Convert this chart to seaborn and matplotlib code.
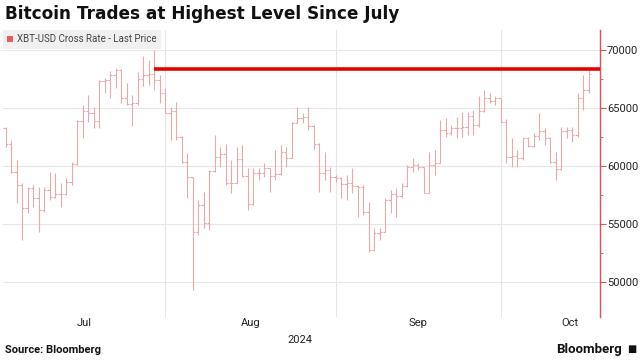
import pandas as pd
import matplotlib
matplotlib.use("Agg")
import matplotlib.pyplot as plt
from matplotlib.patches import Patch
import seaborn as sns

# Daily XBT-USD bars (open, high, low, close)
opens = [63250, 61870, 59510, 58360, 56350, 58070, 57210, 56200, 57930, 57360,
         57580, 57580, 58590, 60140, 63880, 64740, 64540, 63880, 67270, 67410,
         67840, 68280, 65830, 65310, 65400, 67470, 67840, 67930, 67360, 66260,
         64540, 64770, 62530, 60370, 59080, 54340, 56640, 55110, 59600, 60750,
         61030, 58560, 58500, 60570, 59140, 56690, 59370, 59420, 59800, 59140,
         59310, 61230, 60660, 63730, 64110, 64250, 63450, 61870, 59370, 59650,
         59020, 58930, 58450, 58560, 58270, 58220, 56060, 52760, 54190, 54340,
         57070, 57580, 57410, 58270, 59940, 60080, 59880, 57640, 60080, 60230,
         63100, 62870, 63250, 63250, 63330, 64310, 63530, 64740, 65830, 65630,
         65830, 63820, 60800, 60860, 60660, 62380, 61720, 62590, 63020, 62380,
         60370, 59740, 63050, 63100, 62670, 65890, 66550]
highs = [63390, 62240, 60520, 58500, 58220, 58360, 58220, 58220, 59450, 59370,
         58500, 58930, 60370, 63960, 65260, 66120, 65110, 67410, 67560, 68130,
         68420, 68330, 67130, 66120, 68050, 69430, 69140, 70000, 67840, 66700,
         65110, 65540, 62590, 61090, 59080, 57070, 57790, 59650, 62670, 61670,
         61900, 60520, 61670, 61810, 59800, 59800, 59800, 60230, 59800, 61380,
         61810, 61670, 63820, 65110, 64540, 65110, 63530, 61950, 61230, 59940,
         59220, 59080, 59220, 59800, 58360, 58360, 56920, 54620, 54620, 57210,
         57930, 58070, 58500, 60080, 60660, 60230, 59940, 61230, 61380, 63960,
         64110, 63530, 64250, 64680, 64680, 64830, 65980, 66550, 66260, 65980,
         65830, 64020, 62380, 61380, 62380, 62470, 62820, 64540, 63250, 62530,
         61230, 63390, 63390, 63390, 66260, 67840, 68220]
lows = [61670, 59400, 56780, 53620, 55920, 56490, 54340, 56060, 57070, 57210,
        56490, 57500, 58360, 60080, 62380, 63820, 63250, 63250, 66260, 65830,
        66700, 65400, 65260, 63450, 65260, 66840, 66980, 66550, 65400, 64540,
        62240, 62240, 60230, 57210, 49310, 54050, 54620, 54480, 59510, 59940,
        58360, 57640, 58500, 59080, 56200, 56640, 58790, 59080, 57790, 58790,
        59220, 59940, 60660, 63680, 63680, 63100, 61380, 57790, 58790, 57790,
        58650, 57210, 57070, 57640, 55630, 55780, 52610, 52700, 53620, 54340,
        55920, 55630, 57210, 58220, 59510, 59650, 57640, 57640, 59220, 60230,
        62530, 62670, 62380, 62530, 62670, 62670, 63390, 64680, 65400, 65260,
        63680, 60230, 59940, 59880, 60520, 61670, 61670, 62240, 61810, 60230,
        58790, 59650, 62380, 62100, 62530, 64830, 66260]
closes = [61870, 59510, 58360, 56350, 58070, 57210, 56200, 57930, 57360, 57580,
          57580, 58590, 60140, 63880, 64740, 64540, 63880, 67270, 67410, 67840,
          68280, 65830, 65310, 65400, 67470, 67840, 67930, 67360, 66260, 64540,
          64770, 62530, 60370, 59080, 54340, 56640, 55110, 59600, 60750, 61030,
          58560, 58500, 60570, 59140, 56690, 59370, 59420, 59800, 59140, 59310,
          61230, 60660, 63730, 64110, 64250, 63450, 61870, 59370, 59650, 59020,
          58930, 58450, 58560, 58270, 58220, 56060, 52760, 54190, 54340, 57070,
          57580, 57410, 58270, 59940, 60080, 59880, 57640, 60080, 60230, 63100,
          62870, 63250, 63250, 63330, 64310, 63530, 64740, 65830, 65630, 65830,
          63820, 60800, 60860, 60660, 62380, 61720, 62590, 63020, 62380, 60370,
          59740, 63050, 63100, 62670, 65890, 66550, 67930]
dates = pd.date_range("2024-07-03", periods=len(closes), freq="D")

# level of the latest price, drawn back to the late-July peak
last_price = 68360
level_start = pd.Timestamp("2024-07-30")

y_ticks = [50000, 55000, 60000, 65000, 70000]
month_starts = pd.to_datetime(["2024-08-01", "2024-09-01", "2024-10-01"])
month_labels = ["Jul", "Aug", "Sep", "Oct"]
month_label_pos = pd.to_datetime(["2024-07-17 08:00", "2024-08-16 12:00",
                                  "2024-09-16 00:00", "2024-10-13 16:00"])

sns.set_theme(style="white")
plt.rcParams["font.family"] = ["Roboto", "DejaVu Sans"]

fig = plt.figure(figsize=(6.42, 3.61), dpi=100)
ax = fig.add_axes([3 / 642, 1 - 317 / 361, 597 / 642, 287 / 361])

bar_color = "#e9a9a9"
half = pd.Timedelta(hours=10)
ax.vlines(dates, lows, highs, color=bar_color, lw=0.8)
ax.hlines(opens, dates - half, dates, color=bar_color, lw=0.8)
ax.hlines(closes, dates, dates + half, color=bar_color, lw=0.8)

x_start = pd.Timestamp("2024-07-02 13:00")
x_end = pd.Timestamp("2024-10-19 02:00")
ax.hlines(last_price, level_start, x_end, color="#e10600", lw=2.6, zorder=5)

ax.set_xlim(x_start, x_end)
ax.set_ylim(47000, 71700)

# y axis on the right with red spine
ax.yaxis.tick_right()
ax.set_yticks(y_ticks)
ax.set_yticks([52500, 57500, 62500, 67500], minor=True)
ax.tick_params(axis="y", which="major", direction="out", length=4, width=0.8,
               color="#e05050", labelsize=8, labelcolor="#222222", pad=1, right=True)
ax.tick_params(axis="y", which="minor", direction="out", length=2, width=0.6,
               color="#e05050", right=True)
for s in ["top", "left", "bottom"]:
    ax.spines[s].set_visible(False)
ax.spines["right"].set_color("#e05050")
ax.spines["right"].set_linewidth(1.0)

ax.set_xticks(month_starts)
ax.set_xticklabels([])
ax.set_xticks(month_label_pos, minor=True)
ax.set_xticklabels(month_labels, minor=True)
ax.tick_params(axis="x", which="both", length=0, labelsize=8, labelcolor="#222222", pad=1)

ax.grid(True, axis="y", which="major", color="#e6e6e6", lw=0.8)
ax.grid(True, axis="x", which="major", color="#e6e6e6", lw=0.8)
ax.set_axisbelow(True)

fig.text(300 / 642, 1 - 340 / 361, "2024", ha="center", va="center",
         fontsize=8, color="#222222")

leg = ax.legend(handles=[Patch(facecolor="#f05a5a", edgecolor="none")],
                labels=["XBT-USD Cross Rate - Last Price"], loc="upper left",
                borderaxespad=0, frameon=True, fancybox=False, fontsize=7,
                handlelength=0.6, handleheight=0.6, handletextpad=0.4,
                borderpad=0.45, labelcolor="#444444")
leg.get_frame().set_facecolor("#f0f0f0")
leg.get_frame().set_edgecolor("none")
leg.get_frame().set_alpha(1)

fig.text(5 / 642, 1 - 14 / 361, "Bitcoin Trades at Highest Level Since July",
         ha="left", va="center", fontsize=12.2, fontweight="bold", color="#111111",
         family="DejaVu Sans")
fig.text(5 / 642, 1 - 350 / 361, "Source: Bloomberg", ha="left", va="center",
         fontsize=8, fontweight="bold", color="#111111")
fig.text(622 / 642, 1 - 349 / 361, "Bloomberg", ha="right", va="center",
         fontsize=9.5, fontweight="bold", color="#111111")
fig.text(632 / 642, 1 - 349 / 361, "\u25a0", ha="center", va="center",
         fontsize=7, color="#111111", family="DejaVu Sans")

fig.savefig("out.png", dpi=100)
